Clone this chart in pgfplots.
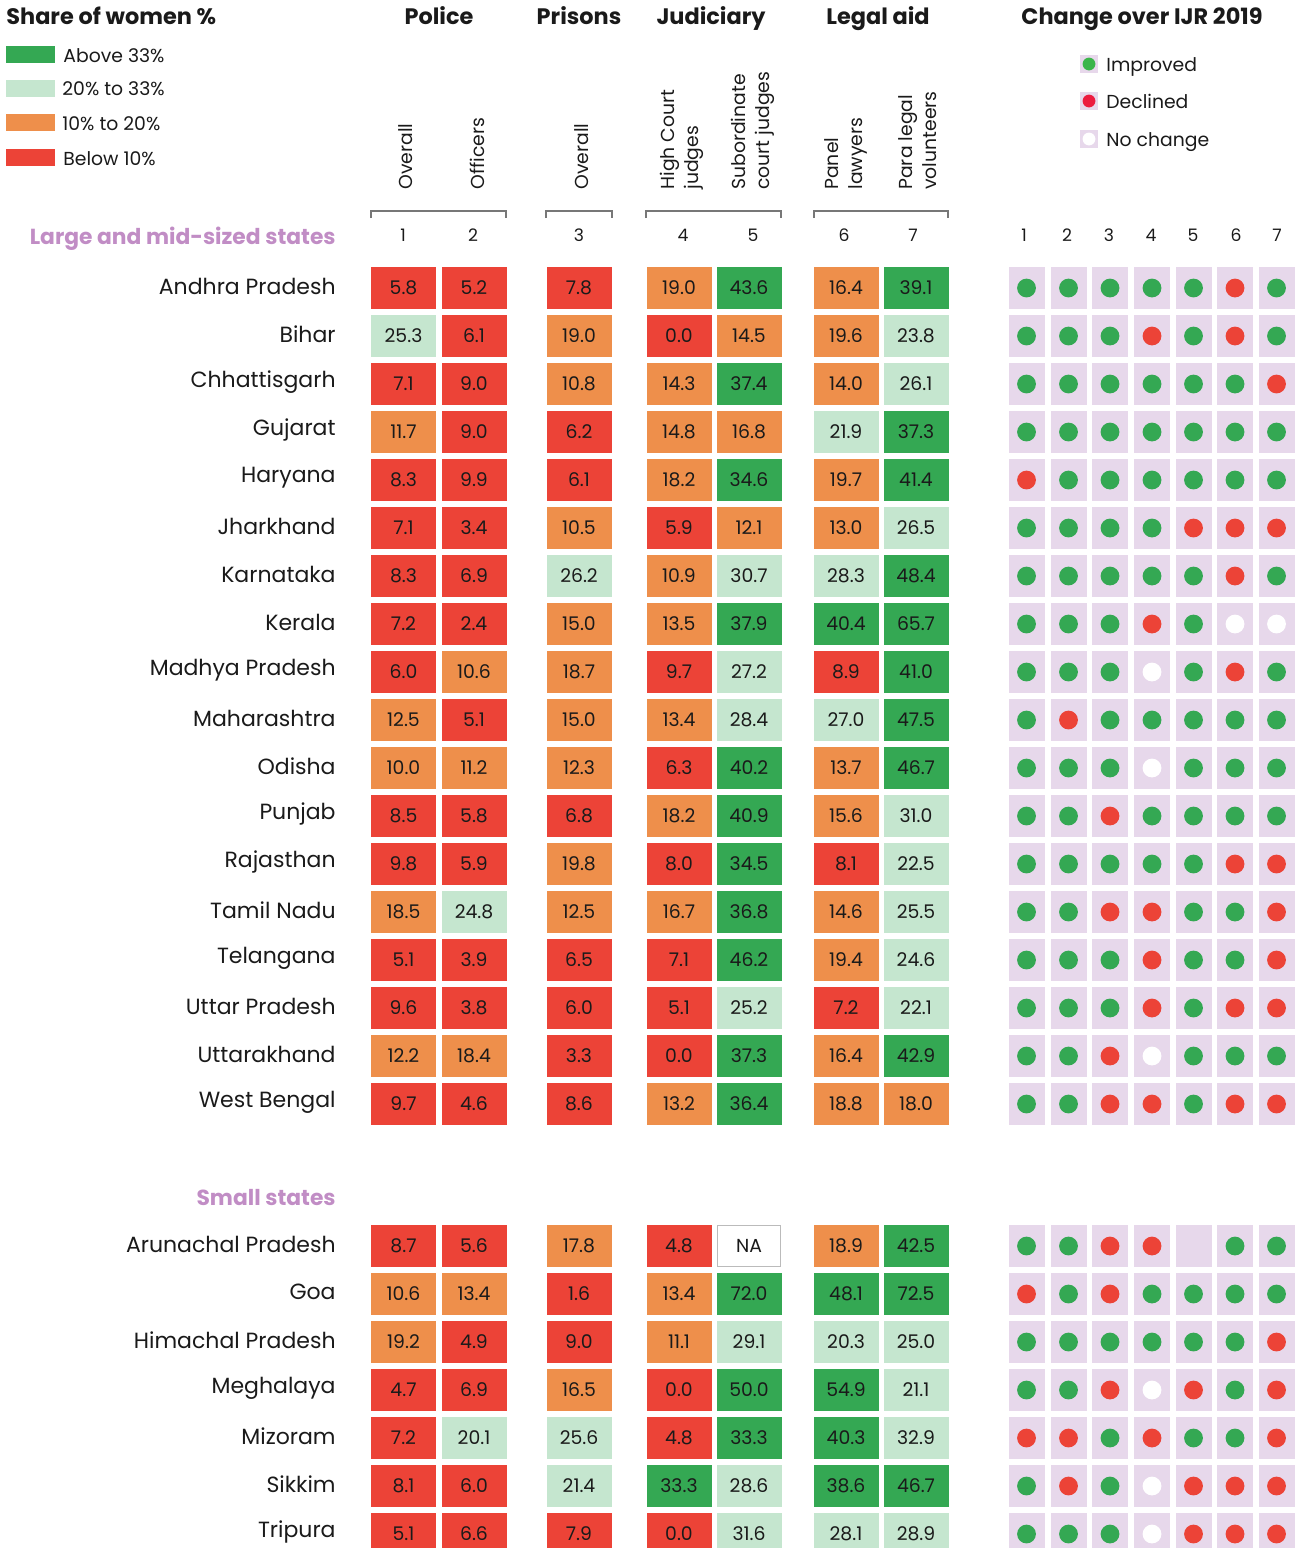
\documentclass[border=0pt]{standalone}
\usepackage{pgfplots}
\pgfplotsset{compat=1.18}
\usepackage{pgfplotstable}
\usepackage{fontspec}
\setmainfont{Poppins}

\definecolor{cGreen}{HTML}{34A853}
\definecolor{cLight}{HTML}{C5E6CF}
\definecolor{cOrange}{HTML}{EE8F4B}
\definecolor{cRed}{HTML}{EC4337}
\definecolor{cLav}{HTML}{E7D8EB}
\definecolor{cPurple}{HTML}{C18DC5}
\definecolor{txt}{HTML}{1A1A1A}
\definecolor{brk}{HTML}{777777}
\definecolor{naGray}{HTML}{BBBBBB}
\definecolor{legGreen}{HTML}{3BB54A}
\definecolor{legRed}{HTML}{EC1C3F}

\newcommand\fsName{\fontsize{11}{13}\selectfont}
\newcommand\fsCell{\fontsize{9.4}{11}\selectfont}
\newcommand\fsHead{\bfseries\fontsize{11.2}{13}\selectfont}
\newcommand\fsGroup{\bfseries\fontsize{10.9}{13}\selectfont}
\newcommand\fsLeg{\fontsize{9.4}{11}\selectfont}
\newcommand\fsRot{\fontsize{9.4}{12}\selectfont}
\newcommand\fsNum{\fontsize{8.6}{10}\selectfont}

\pgfdeclareplotmark{cell}{\pgfpathrectangle{\pgfpoint{-16.25pt}{-10.5pt}}{\pgfpoint{32.5pt}{21pt}}\pgfusepathqfill}
\pgfdeclareplotmark{cellna}{\pgfpathrectangle{\pgfpoint{-15.9pt}{-10.2pt}}{\pgfpoint{31.8pt}{20.4pt}}\pgfusepathqfillstroke}
\pgfdeclareplotmark{lav}{\pgfpathrectangle{\pgfpoint{-9pt}{-10.5pt}}{\pgfpoint{18pt}{21pt}}\pgfusepathqfill}
\pgfdeclareplotmark{dot}{\pgfpathcircle{\pgfpointorigin}{4.7pt}\pgfusepathqfill}
\pgfdeclareplotmark{nothing}{}

% Large and mid-sized states: values c1..c7, colour band k1..k7
% (A above 33, B 20-33, C 10-20, D below 10), change d1..d7
\pgfplotstableread{
y c1 c2 c3 c4 c5 c6 c7 k1 k2 k3 k4 k5 k6 k7 d1 d2 d3 d4 d5 d6 d7
288 5.8 5.2 7.8 19.0 43.6 16.4 39.1 D D D C A C A G G G G G R G
336 25.3 6.1 19.0 0.0 14.5 19.6 23.8 B D C D C C B G G G R G R G
384 7.1 9.0 10.8 14.3 37.4 14.0 26.1 D D C C A C B G G G G G G R
432 11.7 9.0 6.2 14.8 16.8 21.9 37.3 C D D C C B A G G G G G G G
480 8.3 9.9 6.1 18.2 34.6 19.7 41.4 D D D C A C A R G G G G G G
528 7.1 3.4 10.5 5.9 12.1 13.0 26.5 D D C D C C B G G G G R R R
576 8.3 6.9 26.2 10.9 30.7 28.3 48.4 D D B C B B A G G G G G R G
624 7.2 2.4 15.0 13.5 37.9 40.4 65.7 D D C C A A A G G G R G W W
672 6.0 10.6 18.7 9.7 27.2 8.9 41.0 D C C D B D A G G G W G R G
720 12.5 5.1 15.0 13.4 28.4 27.0 47.5 C D C C B B A G R G G G G G
768 10.0 11.2 12.3 6.3 40.2 13.7 46.7 C C C D A C A G G G W G G G
816 8.5 5.8 6.8 18.2 40.9 15.6 31.0 D D D C A C B G G R G G G G
864 9.8 5.9 19.8 8.0 34.5 8.1 22.5 D D C D A D B G G G G G R R
912 18.5 24.8 12.5 16.7 36.8 14.6 25.5 C B C C A C B G G R R G G R
960 5.1 3.9 6.5 7.1 46.2 19.4 24.6 D D D D A C B G G G R G G R
1008 9.6 3.8 6.0 5.1 25.2 7.2 22.1 D D D D B D B G G G R G R R
1056 12.2 18.4 3.3 0.0 37.3 16.4 42.9 C C D D A C A G G R W G G G
1104 9.7 4.6 8.6 13.2 36.4 18.8 18.0 D D D C A C C G G R R G R R
}\tabLarge

% Small states
\pgfplotstableread{
y c1 c2 c3 c4 c5 c6 c7 k1 k2 k3 k4 k5 k6 k7 d1 d2 d3 d4 d5 d6 d7
1246 8.7 5.6 17.8 4.8 nan 18.9 42.5 D D C D N C A G G R R N G G
1294 10.6 13.4 1.6 13.4 72.0 48.1 72.5 C C D C A A A R G R G G G G
1342 19.2 4.9 9.0 11.1 29.1 20.3 25.0 C D D C B B B G G G G G G R
1390 4.7 6.9 16.5 0.0 50.0 54.9 21.1 D D C D A A B G G R W R G R
1438 7.2 20.1 25.6 4.8 33.3 40.3 32.9 D B B D A A B R R G R G G R
1486 8.1 6.0 21.4 33.3 28.6 38.6 46.7 D D B A B A A G R G W R R R
1534 5.1 6.6 7.9 0.0 31.6 28.1 28.9 D D D D B B B G G G W R R R
}\tabSmall

\pgfplotsset{
  cellfill/.style={only marks, mark=cell, scatter, point meta=explicit symbolic,
    scatter/classes={A={fill=cGreen},B={fill=cLight},C={fill=cOrange},D={fill=cRed},N={fill=white}}},
  celltext/.style={only marks, mark=nothing, point meta=explicit,
    nodes near coords={\pgfmathprintnumber[fixed, fixed zerofill, precision=1, assume math mode=true]{\pgfplotspointmeta}},
    every node near coord/.style={anchor=center, inner sep=0pt, font=\fsCell, text=txt}},
  dotplot/.style={only marks, mark=dot, scatter, point meta=explicit symbolic,
    scatter/classes={G={fill=cGreen},R={fill=cRed},W={fill=white},N={fill=cLav}}},
}

% #2 table, #3 value column, #4 band column, #5 x position
\newcommand\cellcol[5][]{%
  \addplot[cellfill] table[x expr=#5, y=y, meta=#4] {#2};
  \addplot[celltext,#1] table[x expr=#5, y=y, meta=#3] {#2};}
\newcommand\dotcol[3]{%
  \addplot[only marks, mark=lav, color=cLav] table[x expr=#3, y=y] {#1};
  \addplot[dotplot] table[x expr=#3, y=y, meta=#2] {#1};}
\newcommand\colnum[2]{\node[anchor=base, font=\fsNum, text=txt, inner sep=0pt] at (axis cs:#1,241) {#2};}

\begin{document}
\begin{tikzpicture}
\useasboundingbox (0,0) rectangle (649pt,774pt);
\clip (0,0) rectangle (649pt,774pt);
\begin{axis}[
  scale only axis, width=649pt, height=774pt,
  xmin=0, xmax=1298, ymin=0, ymax=1548, y dir=reverse,
  axis line style={draw=none}, tick style={draw=none}, major tick length=0pt,
  xtick=\empty,
  ytick={288,336,384,432,480,528,576,624,672,720,768,816,864,912,960,1008,1056,1104,1246,1294,1342,1390,1438,1486,1534},
  yticklabels={Andhra Pradesh,Bihar,Chhattisgarh,Gujarat,Haryana,Jharkhand,Karnataka,Kerala,Madhya Pradesh,Maharashtra,Odisha,Punjab,Rajasthan,Tamil Nadu,Telangana,Uttar Pradesh,Uttarakhand,West Bengal,Arunachal Pradesh,Goa,Himachal Pradesh,Meghalaya,Mizoram,Sikkim,Tripura},
  yticklabel style={anchor=east, inner sep=0pt, xshift=168pt, yshift=1pt, font=\fsName, text=txt},
  clip=false,
]
% value cells
\cellcol{\tabLarge}{c1}{k1}{403.5}
\cellcol{\tabLarge}{c2}{k2}{474}
\cellcol{\tabLarge}{c3}{k3}{579}
\cellcol{\tabLarge}{c4}{k4}{679}
\cellcol{\tabLarge}{c5}{k5}{749}
\cellcol{\tabLarge}{c6}{k6}{846}
\cellcol{\tabLarge}{c7}{k7}{916}
\cellcol{\tabSmall}{c1}{k1}{403.5}
\cellcol{\tabSmall}{c2}{k2}{474}
\cellcol{\tabSmall}{c3}{k3}{579}
\cellcol{\tabSmall}{c4}{k4}{679}
\cellcol[skip coords between index={0}{1}]{\tabSmall}{c5}{k5}{749}
\cellcol{\tabSmall}{c6}{k6}{846}
\cellcol{\tabSmall}{c7}{k7}{916}
\addplot[only marks, mark=cellna, mark options={fill=white, draw=naGray, line width=0.6pt},
  nodes near coords={NA}, every node near coord/.style={anchor=center, inner sep=0pt, font=\fsCell, text=txt}]
  coordinates {(749,1246)};
% change dots
\dotcol{\tabLarge}{d1}{1026.5}
\dotcol{\tabLarge}{d2}{1068.5}
\dotcol{\tabLarge}{d3}{1110}
\dotcol{\tabLarge}{d4}{1152}
\dotcol{\tabLarge}{d5}{1193.5}
\dotcol{\tabLarge}{d6}{1235}
\dotcol{\tabLarge}{d7}{1276.5}
\dotcol{\tabSmall}{d1}{1026.5}
\dotcol{\tabSmall}{d2}{1068.5}
\dotcol{\tabSmall}{d3}{1110}
\dotcol{\tabSmall}{d4}{1152}
\dotcol{\tabSmall}{d5}{1193.5}
\dotcol{\tabSmall}{d6}{1235}
\dotcol{\tabSmall}{d7}{1276.5}

% titles
\node[anchor=base west, font=\fsHead, text=txt, inner sep=0pt] at (axis cs:6,24) {Share of women \%};
\node[anchor=base, font=\fsHead, text=txt, inner sep=0pt] at (axis cs:439,24) {Police};
\node[anchor=base, font=\fsHead, text=txt, inner sep=0pt] at (axis cs:579,24) {Prisons};
\node[anchor=base, font=\fsHead, text=txt, inner sep=0pt] at (axis cs:711,24) {Judiciary};
\node[anchor=base, font=\fsHead, text=txt, inner sep=0pt] at (axis cs:878,24) {Legal aid};
\node[anchor=base, font=\fsHead, text=txt, inner sep=0pt] at (axis cs:1142,24) {Change over IJR 2019};

% share legend
\fill[cGreen]  (axis cs:6,46) rectangle (axis cs:55,63);
\fill[cLight]  (axis cs:6,80) rectangle (axis cs:55,97);
\fill[cOrange] (axis cs:6,114) rectangle (axis cs:55,131);
\fill[cRed]    (axis cs:6,149) rectangle (axis cs:55,166);
\node[anchor=base west, font=\fsLeg, text=txt, inner sep=0pt] at (axis cs:63,62) {Above 33\%};
\node[anchor=base west, font=\fsLeg, text=txt, inner sep=0pt] at (axis cs:62,95) {20\% to 33\%};
\node[anchor=base west, font=\fsLeg, text=txt, inner sep=0pt] at (axis cs:62,130) {10\% to 20\%};
\node[anchor=base west, font=\fsLeg, text=txt, inner sep=0pt] at (axis cs:63,165) {Below 10\%};

% change legend
\fill[cLav] (axis cs:1080,55) rectangle (axis cs:1098,73);
\fill[cLav] (axis cs:1080,92) rectangle (axis cs:1098,110);
\fill[cLav] (axis cs:1080,130) rectangle (axis cs:1098,148);
\fill[legGreen] (axis cs:1089,64) circle[radius=3.2pt];
\fill[legRed] (axis cs:1089,101) circle[radius=3.2pt];
\fill[white] (axis cs:1089,139) circle[radius=3.2pt];
\node[anchor=base west, font=\fsLeg, text=txt, inner sep=0pt] at (axis cs:1106,71) {Improved};
\node[anchor=base west, font=\fsLeg, text=txt, inner sep=0pt] at (axis cs:1106,108) {Declined};
\node[anchor=base west, font=\fsLeg, text=txt, inner sep=0pt] at (axis cs:1106,146) {No change};

% rotated column headers
\node[rotate=90, anchor=west, align=left, font=\fsRot, text=txt, inner sep=0pt] at (axis cs:406,190) {Overall};
\node[rotate=90, anchor=west, align=left, font=\fsRot, text=txt, inner sep=0pt] at (axis cs:477,190) {Officers};
\node[rotate=90, anchor=west, align=left, font=\fsRot, text=txt, inner sep=0pt] at (axis cs:582,190) {Overall};
\node[rotate=90, anchor=west, align=left, font=\fsRot, text=txt, inner sep=0pt] at (axis cs:682,190) {High Court\\judges};
\node[rotate=90, anchor=west, align=left, font=\fsRot, text=txt, inner sep=0pt] at (axis cs:753,190) {Subordinate\\court judges};
\node[rotate=90, anchor=west, align=left, font=\fsRot, text=txt, inner sep=0pt] at (axis cs:846,190) {Panel\\lawyers};
\node[rotate=90, anchor=west, align=left, font=\fsRot, text=txt, inner sep=0pt] at (axis cs:918,190) {Para legal\\volunteers};

% brackets
\draw[brk, line width=0.7pt] (axis cs:371,218) -- (axis cs:371,211) -- (axis cs:506,211) -- (axis cs:506,218);
\draw[brk, line width=0.7pt] (axis cs:546,218) -- (axis cs:546,211) -- (axis cs:612,211) -- (axis cs:612,218);
\draw[brk, line width=0.7pt] (axis cs:646,218) -- (axis cs:646,211) -- (axis cs:781,211) -- (axis cs:781,218);
\draw[brk, line width=0.7pt] (axis cs:814,218) -- (axis cs:814,211) -- (axis cs:948,211) -- (axis cs:948,218);

% column numbers
\colnum{403}{1}\colnum{473}{2}\colnum{579}{3}\colnum{683}{4}\colnum{753}{5}\colnum{844}{6}\colnum{913}{7}
\colnum{1024}{1}\colnum{1067}{2}\colnum{1109}{3}\colnum{1151}{4}\colnum{1193}{5}\colnum{1236}{6}\colnum{1277}{7}

% group headers
\node[anchor=base east, font=\fsGroup, text=cPurple, inner sep=0pt] at (axis cs:336,244) {Large and mid-sized states};
\node[anchor=base east, font=\fsGroup, text=cPurple, inner sep=0pt] at (axis cs:336,1205) {Small states};
\end{axis}
\end{tikzpicture}
\end{document}
